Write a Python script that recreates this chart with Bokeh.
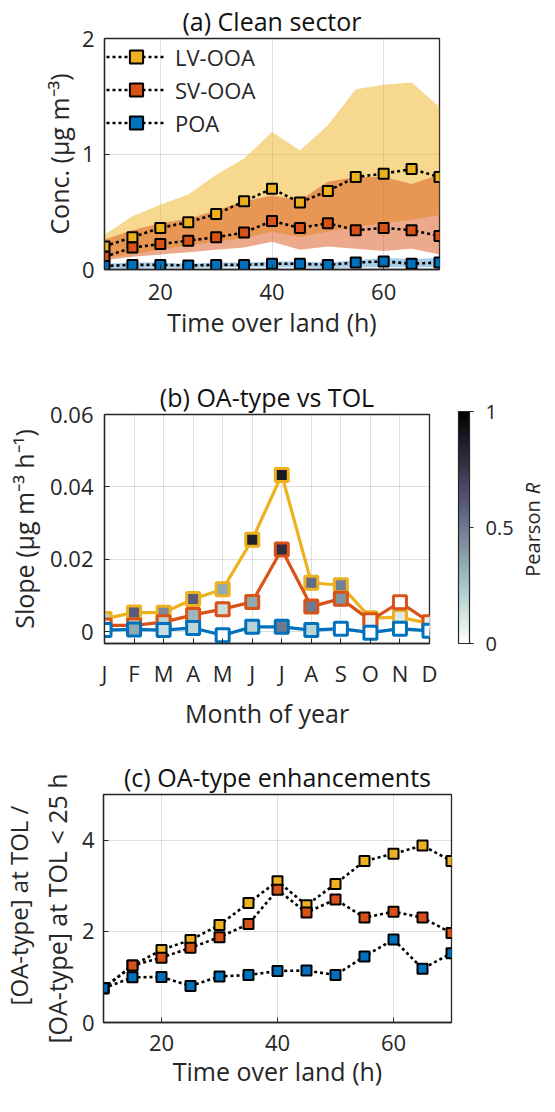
import math
from bokeh.plotting import figure
from bokeh.layouts import column, row
from bokeh.models import (ColumnDataSource, FixedTicker, Range1d, Legend, LegendItem,
                          ColorBar, LinearColorMapper, Label)
from bokeh.transform import transform
from bokeh.embed import file_html
from bokeh.resources import INLINE

# ---------------- data ----------------
tol_h = [10, 15, 20, 25, 30, 35, 40, 45, 50, 55, 60, 65, 70]

# (a) clean sector concentrations (ug m-3)
lv_conc = [0.20, 0.28, 0.36, 0.41, 0.48, 0.59, 0.70, 0.58, 0.68, 0.80, 0.83, 0.87, 0.80]
sv_conc = [0.11, 0.19, 0.22, 0.25, 0.28, 0.32, 0.42, 0.36, 0.40, 0.34, 0.36, 0.34, 0.29]
poa_conc = [0.03, 0.04, 0.04, 0.035, 0.04, 0.04, 0.05, 0.05, 0.04, 0.06, 0.07, 0.05, 0.06]
lv_lo = [0.10, 0.13, 0.17, 0.21, 0.24, 0.27, 0.33, 0.28, 0.33, 0.37, 0.40, 0.43, 0.47]
lv_hi = [0.30, 0.46, 0.56, 0.65, 0.82, 0.96, 1.19, 1.03, 1.25, 1.56, 1.60, 1.62, 1.41]
sv_lo = [0.08, 0.11, 0.13, 0.15, 0.17, 0.19, 0.24, 0.17, 0.20, 0.18, 0.16, 0.18, 0.13]
sv_hi = [0.26, 0.34, 0.40, 0.44, 0.51, 0.59, 0.64, 0.60, 0.76, 0.80, 0.80, 0.74, 0.82]
poa_lo = [0.01, 0.01, 0.02, 0.01, 0.02, 0.02, 0.02, 0.02, 0.01, 0.02, 0.02, 0.02, 0.02]
poa_hi = [0.05, 0.06, 0.06, 0.05, 0.06, 0.06, 0.07, 0.07, 0.06, 0.08, 0.10, 0.09, 0.10]

# (b) monthly slopes (ug m-3 h-1) and Pearson R
months = ["J", "F", "M", "A", "M", "J", "J", "A", "S", "O", "N", "D"]
month_num = [1, 2, 3, 4, 5, 6, 7, 8, 9, 10, 11, 12]
lv_slope = [0.0035, 0.0053, 0.0052, 0.0090, 0.0117, 0.0254, 0.0433, 0.0135, 0.0128, 0.0037, 0.0040, 0.0022]
sv_slope = [0.0017, 0.0017, 0.0026, 0.0046, 0.0062, 0.0082, 0.0227, 0.0069, 0.0091, 0.0031, 0.0081, 0.0026]
poa_slope = [0.0004, 0.0006, 0.0004, 0.0010, -0.0010, 0.0013, 0.0013, 0.0004, 0.0008, -0.0003, 0.0008, 0.0002]
lv_r = [0.20, 0.60, 0.45, 0.60, 0.35, 0.85, 0.88, 0.55, 0.48, 0.10, 0.10, 0.05]
sv_r = [0.10, 0.15, 0.20, 0.30, 0.15, 0.35, 0.80, 0.50, 0.42, 0.05, 0.00, 0.05]
poa_r = [0.00, 0.35, 0.15, 0.18, 0.00, 0.20, 0.50, 0.20, 0.00, 0.00, 0.00, 0.02]

# (c) enhancement ratios
lv_enh = [0.75, 1.25, 1.59, 1.81, 2.14, 2.62, 3.10, 2.57, 3.04, 3.54, 3.70, 3.88, 3.54]
sv_enh = [0.75, 1.25, 1.42, 1.64, 1.87, 2.16, 2.91, 2.41, 2.70, 2.30, 2.43, 2.30, 1.96]
poa_enh = [0.75, 0.99, 1.00, 0.80, 1.01, 1.04, 1.13, 1.14, 1.04, 1.45, 1.82, 1.18, 1.52]

series_names = ["LV-OOA", "SV-OOA", "POA"]

# ---------------- style ----------------
FONT = "Open Sans"
TXT = "#262626"
C_LV = "#EDB120"
C_SV = "#D95319"
C_POA = "#0072BD"
LBL = "25px"
TCK = "22px"


def bone_reversed(n=256):
    pal = []
    for i in range(n):
        x = 1.0 - i / (n - 1)
        hr = min(1.0, x * 8 / 3)
        hg = min(1.0, max(0.0, (x - 3 / 8) * 8 / 3))
        hb = min(1.0, max(0.0, (x - 6 / 8) * 4))
        r, g, b = (7 * x + hb) / 8, (7 * x + hg) / 8, (7 * x + hr) / 8
        pal.append("#%02x%02x%02x" % (round(r * 255), round(g * 255), round(b * 255)))
    return pal


def make_fig(width, height, xr, yr, mbl, mbr, mbt, mbb, title):
    p = figure(width=width, height=height, x_range=Range1d(*xr), y_range=Range1d(*yr),
               output_backend="svg", toolbar_location=None,
               min_border_left=mbl, min_border_right=mbr,
               min_border_top=mbt, min_border_bottom=mbb)
    p.title.text = title
    p.title.align = "center"
    p.title.text_font = FONT
    p.title.text_font_size = LBL
    p.title.text_font_style = "normal"
    p.title.text_color = "#111111"
    p.title.standoff = 2
    p.outline_line_color = TXT
    p.outline_line_width = 1.3
    p.outline_line_alpha = 1.0
    p.background_fill_color = "white"
    p.border_fill_color = "white"
    return p


def blank_fig(width, height):
    p = figure(width=width, height=height, x_range=Range1d(0, width), y_range=Range1d(0, height),
               output_backend="svg", toolbar_location=None, x_axis_type=None, y_axis_type=None,
               min_border=0, min_border_left=0, min_border_right=0, min_border_top=0,
               min_border_bottom=0)
    p.outline_line_color = None
    p.xgrid.visible = False
    p.ygrid.visible = False
    p.background_fill_color = "white"
    p.border_fill_color = "white"
    return p


def style_axes(p, xticks, xlabels, yticks, ylabels, xlabel, ylabel,
               xstand=14, ystand=10, xals=6, yals=6):
    xa, ya = p.xaxis[0], p.yaxis[0]
    xa.ticker = FixedTicker(ticks=xticks)
    ya.ticker = FixedTicker(ticks=yticks)
    xa.major_label_overrides = {t: s for t, s in zip(xticks, xlabels)}
    ya.major_label_overrides = {t: s for t, s in zip(yticks, ylabels)}
    for ax in (xa, ya):
        ax.major_tick_in = 5
        ax.major_tick_out = 0
        ax.minor_tick_line_color = None
        ax.major_tick_line_color = TXT
        ax.axis_line_color = TXT
        ax.axis_line_width = 1.3
        ax.major_label_text_font = FONT
        ax.major_label_text_font_size = TCK
        ax.major_label_text_color = TXT
        ax.axis_label_text_font = FONT
        ax.axis_label_text_font_size = LBL
        ax.axis_label_text_font_style = "normal"
        ax.axis_label_text_color = TXT
    xa.axis_label = xlabel
    ya.axis_label = ylabel
    xa.major_label_standoff = xstand
    ya.major_label_standoff = ystand
    xa.axis_label_standoff = xals
    ya.axis_label_standoff = yals
    for g in (p.xgrid[0], p.ygrid[0]):
        g.grid_line_color = TXT
        g.grid_line_alpha = 0.15
        g.grid_line_width = 1


# ---------------- (a) ----------------
pa = make_fig(547, 360, (10, 70), (0, 2), 104, 108, 35, 91, "(a) Clean sector")
style_axes(pa, [20, 40, 60], ["20", "40", "60"], [0, 1, 2], ["0", "1", "2"],
           "Time over land (h)", "Conc. (μg m⁻³)", xstand=14, ystand=10, xals=2, yals=3)

src_a = ColumnDataSource(dict(t=tol_h, lv=lv_conc, sv=sv_conc, poa=poa_conc,
                              lv_lo=lv_lo, lv_hi=lv_hi, sv_lo=sv_lo, sv_hi=sv_hi,
                              poa_lo=poa_lo, poa_hi=poa_hi))
pa.varea(x="t", y1="lv_lo", y2="lv_hi", source=src_a, fill_color=C_LV, fill_alpha=0.5)
pa.varea(x="t", y1="sv_lo", y2="sv_hi", source=src_a, fill_color=C_SV, fill_alpha=0.5)
pa.varea(x="t", y1="poa_lo", y2="poa_hi", source=src_a, fill_color=C_POA, fill_alpha=0.35)

items = []
for col, c, name in zip(["lv", "sv", "poa"], [C_LV, C_SV, C_POA], series_names):
    lr = pa.line(x="t", y=col, source=src_a, line_color="black", line_width=2.6,
                 line_dash="3 3")
    sr = pa.scatter(x="t", y=col, source=src_a, marker="square", size=10,
                    fill_color=c, line_color="black", line_width=2)
    items.append(LegendItem(label=name, renderers=[lr, sr]))

leg = Legend(items=items, location="top_left", margin=2, padding=10,
             glyph_width=60, glyph_height=33, label_height=33, spacing=0,
             label_standoff=9, label_text_font=FONT, label_text_font_size=TCK,
             label_text_color=TXT, background_fill_alpha=0, border_line_color=None)
pa.add_layout(leg)

# ---------------- (b) ----------------
pb = make_fig(447, 372, (1, 12), (-0.0033, 0.06), 104, 18, 54, 86, "(b) OA-type vs TOL")
style_axes(pb, month_num, months, [0, 0.02, 0.04, 0.06], ["0", "0.02", "0.04", "0.06"],
           "Month of year", "Slope (μg m⁻³ h⁻¹)", xstand=14, ystand=11, xals=5, yals=6)

mapper = LinearColorMapper(palette=bone_reversed(), low=0, high=1)
src_b = ColumnDataSource(dict(m=month_num, lv=lv_slope, sv=sv_slope, poa=poa_slope,
                              lv_r=lv_r, sv_r=sv_r, poa_r=poa_r))
for col, c in zip(["lv", "sv", "poa"], [C_LV, C_SV, C_POA]):
    pb.line(x="m", y=col, source=src_b, line_color=c, line_width=3.2)
    pb.scatter(x="m", y=col, source=src_b, marker="square", size=13,
               fill_color=transform(col + "_r", mapper), line_color=c, line_width=3)

# colour bar panel (to the right of b); its frame is aligned with b's frame
pcb = blank_fig(100, 372)
cbar = ColorBar(color_mapper=mapper, location=(11, 0), width=11, height=232,
                padding=0, margin=0,
                ticker=FixedTicker(ticks=[0, 0.5, 1]),
                major_label_overrides={0: "0", 0.5: "0.5", 1: "1"},
                major_label_text_font=FONT, major_label_text_font_size="20px",
                major_label_text_color=TXT, major_tick_out=4, major_tick_in=0,
                major_tick_line_color=TXT, bar_line_color=TXT, bar_line_width=1.2,
                label_standoff=12, background_fill_alpha=0, border_line_color=None)
pcb.add_layout(cbar)
pcb.add_layout(Label(x=85, y=105, x_units="screen", y_units="screen", text="Pearson",
                     angle=math.pi / 2, text_align="center", text_baseline="middle",
                     text_font=FONT, text_font_size="20px", text_color=TXT))
pcb.add_layout(Label(x=85, y=155, x_units="screen", y_units="screen", text="R",
                     angle=math.pi / 2, text_align="center", text_baseline="middle",
                     text_font=FONT, text_font_size="20px", text_font_style="italic",
                     text_color=TXT))

# ---------------- (c) ----------------
pcl = blank_fig(36, 364)
pcl.add_layout(Label(x=18, y=117, x_units="screen", y_units="screen",
                     text="[OA-type] at TOL /", angle=math.pi / 2, text_align="center",
                     text_baseline="middle", text_font=FONT, text_font_size="24px",
                     text_color=TXT))

pc = make_fig(511, 364, (10, 70), (0, 5), 62, 96, 62, 74, "(c) OA-type enhancements")
style_axes(pc, [20, 40, 60], ["20", "40", "60"], [0, 2, 4], ["0", "2", "4"],
           "Time over land (h)", "[OA-type] at TOL < 25 h", xstand=12, ystand=9, xals=0, yals=5)

src_c = ColumnDataSource(dict(t=tol_h, lv=lv_enh, sv=sv_enh, poa=poa_enh))
for col, c in zip(["lv", "sv", "poa"], [C_LV, C_SV, C_POA]):
    pc.line(x="t", y=col, source=src_c, line_color="black", line_width=2.6, line_dash="3 3")
    pc.scatter(x="t", y=col, source=src_c, marker="square", size=10,
               fill_color=c, line_color="black", line_width=2)

layout = column(pa, row(pb, pcb, spacing=0), row(pcl, pc, spacing=0), spacing=0)
open("out.html", "w").write(file_html(layout, INLINE))
